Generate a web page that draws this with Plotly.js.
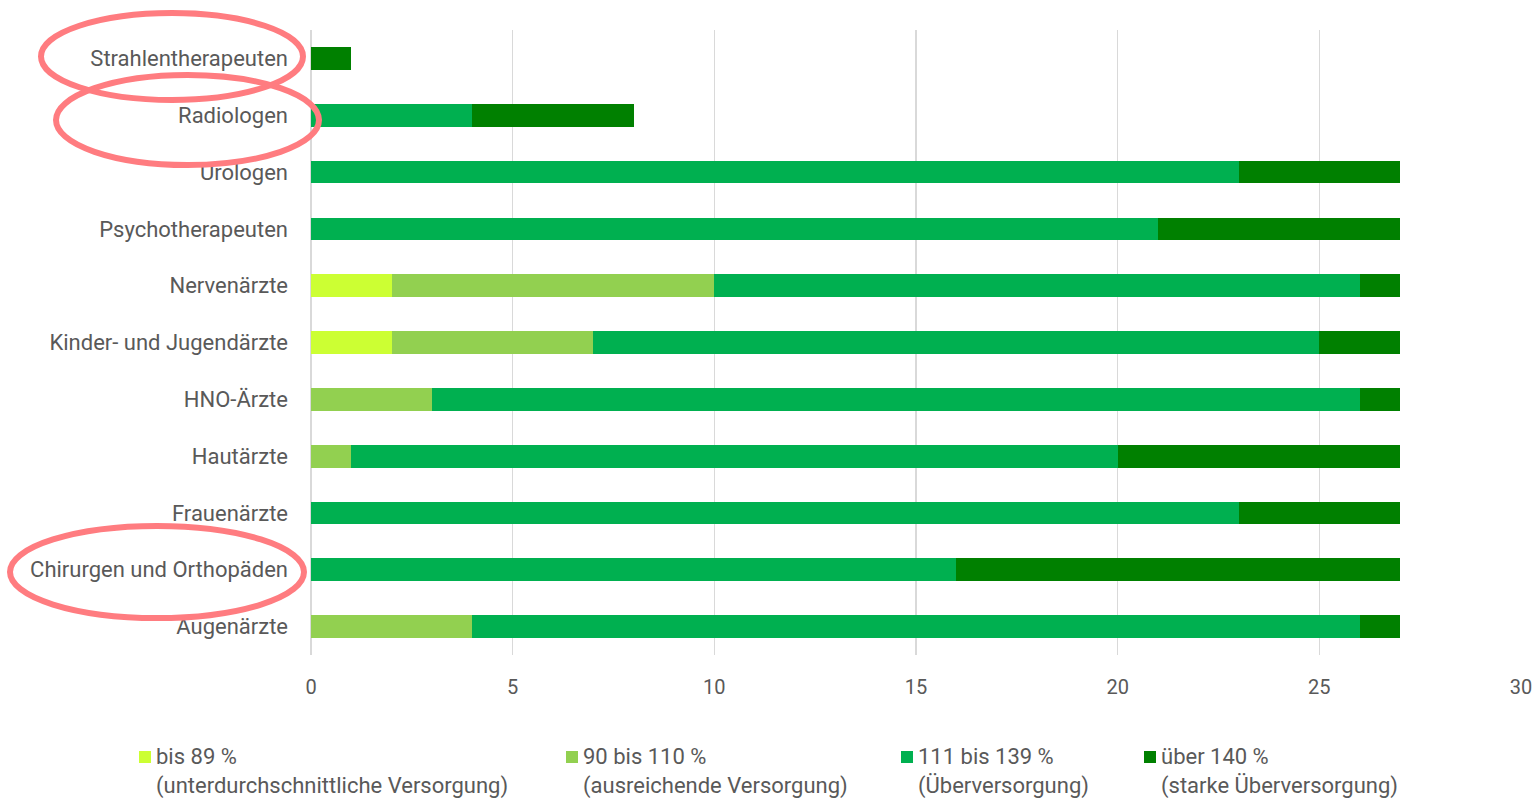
<!DOCTYPE html>
<html>
<head>
<meta charset="utf-8">
<script src="https://cdn.plot.ly/plotly-3.0.1.min.js"></script>
<style>html,body{margin:0;padding:0;background:#fff;}#chart{width:1540px;height:799px;}</style>
</head>
<body>
<div id="chart"></div>
<script>
const categories = ['Strahlentherapeuten','Radiologen','Urologen','Psychotherapeuten','Nervenärzte','Kinder- und Jugendärzte','HNO-Ärzte','Hautärzte','Frauenärzte','Chirurgen und Orthopäden','Augenärzte'];
const bis89     = [0,0,0,0,2,2,0,0,0,0,0];
const bis110    = [0,0,0,0,8,5,3,1,0,0,4];
const bis139    = [0,4,23,21,16,18,23,19,23,16,22];
const ueber140  = [1,4,4,6,1,2,1,7,4,11,1];
const seriesNames = ['bis 89 %','90 bis 110 %','111 bis 139 %','über 140 %'];
const seriesNotes = ['(unterdurchschnittliche Versorgung)','(ausreichende Versorgung)','(Überversorgung)','(starke Überversorgung)'];
const seriesColors = ['#CCFF33','#92D050','#00B050','#008000'];
const xTicks = [0,5,10,15,20,25,30];

const values = [bis89, bis110, bis139, ueber140];
const traces = values.map((v,i) => ({
  type:'bar', orientation:'h', y:categories, x:v, name:seriesNames[i],
  marker:{color:seriesColors[i], line:{width:0}}, hoverinfo:'x+y'
}));

const W=1540, H=799, L=311, R=19, T=30, B=144;
const pw = W-L-R, ph = H-T-B;
const px = x => (x-L)/pw;
const py = y => (H-B-y)/ph;

// highlight ellipses (pixel positions converted to paper coords)
const ellipses = [[41,13,303,100],[56,75,319,165],[10,526,304,618]];
const shapes = ellipses.map(e => ({type:'circle', xref:'paper', yref:'paper',
  x0:px(e[0]), x1:px(e[2]), y0:py(e[3]), y1:py(e[1]),
  line:{color:'#FF7C80', width:6}, layer:'above'}));

// manual legend
const legX = [139,566,901,1144];
const annotations = [];
legX.forEach((lx,i) => {
  shapes.push({type:'rect', xref:'paper', yref:'paper', x0:px(lx), x1:px(lx+12), y0:py(763), y1:py(751),
    fillcolor:seriesColors[i], line:{width:0}});
  annotations.push({xref:'paper', yref:'paper', x:px(lx+15), y:py(742), xanchor:'left', yanchor:'top',
    align:'left', showarrow:false, text:seriesNames[i]+'<br>'+seriesNotes[i],
    font:{family:'Roboto, sans-serif', size:22, color:'#595959'}});
});

const layout = {
  width:W, height:H, barmode:'stack', bargap:0.6, showlegend:false,
  margin:{l:L, r:R, t:T, b:B, pad:0},
  paper_bgcolor:'#fff', plot_bgcolor:'#fff',
  font:{family:'Roboto, sans-serif', color:'#595959'},
  xaxis:{range:[0,30], tickvals:xTicks, showgrid:true, gridcolor:'#d9d9d9', gridwidth:1.5,
    zeroline:true, zerolinecolor:'#d9d9d9', zerolinewidth:1.5, showline:false,
    tickfont:{size:20, color:'#595959', family:'Roboto, sans-serif'}, ticks:'', ticklabelstandoff:18, fixedrange:true},
  yaxis:{type:'category', autorange:'reversed', showgrid:false, zeroline:false, showline:false, ticks:'',
    tickfont:{size:22, color:'#595959', family:'Roboto, sans-serif'}, ticklabelstandoff:22, fixedrange:true},
  shapes:shapes, annotations:annotations
};
Plotly.newPlot('chart', traces, layout, {displayModeBar:false, staticPlot:true});
</script>
</body>
</html>
